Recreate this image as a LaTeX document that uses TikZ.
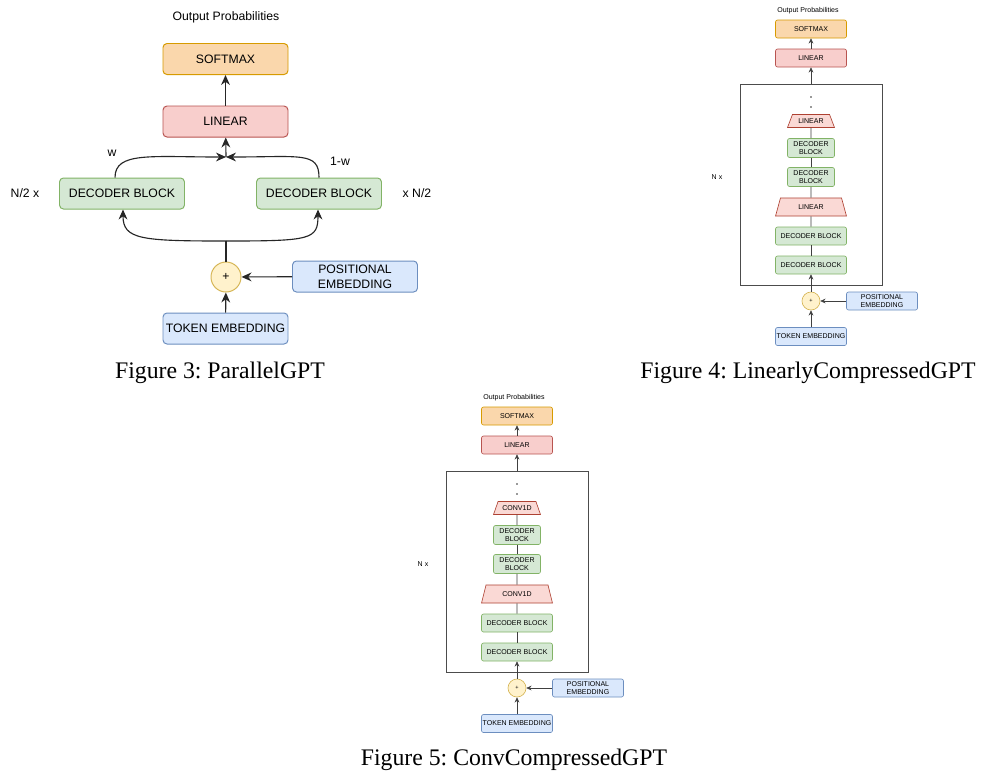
\documentclass[tikz,border=0pt]{standalone}
\usepackage{fontspec}
\setmainfont{Liberation Serif}
\setsansfont{Liberation Sans}
\usetikzlibrary{calc,arrows.meta,shapes.geometric}
\frenchspacing

\definecolor{softfill}{HTML}{FAD7AC}
\definecolor{softline}{HTML}{D79B00}
\definecolor{linfill}{HTML}{F8CECC}
\definecolor{linline}{HTML}{B85450}
\definecolor{decfill}{HTML}{D5E8D4}
\definecolor{decline}{HTML}{82B366}
\definecolor{embfill}{HTML}{DAE8FC}
\definecolor{embline}{HTML}{6C8EBF}
\definecolor{addfill}{HTML}{FFF2CC}
\definecolor{addline}{HTML}{D6B656}
\definecolor{trapfill}{HTML}{FAD9D5}
\definecolor{trapline}{HTML}{AE4132}

\tikzset{
  blk/.style={draw, rounded corners=1mm, line width=0.7pt, inner sep=0pt, align=center,
    minimum width=31.25mm, minimum height=7.75mm, font=\sffamily\fontsize{8.7}{10.6}\selectfont},
  sblk/.style={draw, rounded corners=0.5mm, line width=0.45pt, inner sep=0pt, align=center,
    minimum width=17.75mm, minimum height=4.5mm, font=\sffamily\fontsize{5}{6.1}\selectfont},
  sdec/.style={sblk, fill=decfill, draw=decline, minimum width=11.75mm, minimum height=4.75mm},
  softbox/.style={fill=softfill, draw=softline},
  linbox/.style={fill=linfill, draw=linline},
  decbox/.style={fill=decfill, draw=decline},
  embbox/.style={fill=embfill, draw=embline},
  addnode/.style={circle, draw=addline, fill=addfill, inner sep=0pt},
  trapbox/.style={trapezium, trapezium stretches=true, draw=trapline, fill=trapfill, line width=0.45pt,
    inner sep=0pt, font=\sffamily\fontsize{5}{6.1}\selectfont},
  lbl/.style={font=\sffamily\fontsize{8.7}{10.6}\selectfont},
  slbl/.style={font=\sffamily\fontsize{5}{6.1}\selectfont},
  capt/.style={font=\fontsize{16.9}{20}\selectfont},
  frame/.style={draw=black!70, line width=0.5pt, minimum width=35.5mm, minimum height=50.25mm},
  arr/.style={-{Stealth[length=2.5mm,width=2.2mm]}, line width=0.8pt, draw=black!85},
  sarr/.style={-{Stealth[length=1.3mm,width=1.2mm]}, line width=0.45pt, draw=black!75},
  sline/.style={line width=0.45pt, draw=black!75}
}

% one compressed stack: #1 shift, #2 prefix, #3 layer text, #4 caption
\newcommand{\compgpt}[4]{%
\begin{scope}[shift={#1}]
  \node[slbl] (#2-out) at (-3,-290) {Output Probabilities};
  \node[sblk, softbox] (#2-soft) at (0,-272) {SOFTMAX};
  \node[sblk, linbox] (#2-lin) at (0,-243) {LINEAR};
  \node[frame] (#2-frame) at (0,-116) {};
  \fill[black!80] (0,-204) circle (0.8);
  \fill[black!80] (0,-194) circle (0.8);
  \node[trapbox, minimum width=11.75mm, minimum height=3.25mm,
    trapezium left angle=55, trapezium right angle=55] (#2-trap2) at (0,-180) {#3};
  \node[sdec] (#2-dec4) at (0,-153) {DECODER\\BLOCK};
  \node[sdec] (#2-dec3) at (0,-124) {DECODER\\BLOCK};
  \node[slbl] (#2-n) at (-94,-124) {N x};
  \node[trapbox, minimum width=17.75mm, minimum height=4.5mm,
    trapezium left angle=67, trapezium right angle=67] (#2-trap1) at (0,-94) {#3};
  \node[sblk, decbox] (#2-dec2) at (0,-65) {DECODER BLOCK};
  \node[sblk, decbox] (#2-dec1) at (0,-36) {DECODER BLOCK};
  \node[addnode, line width=0.45pt, minimum size=4.5mm, font=\sffamily\fontsize{4}{5}\selectfont] (#2-add) at (0,0) {+};
  \node[sblk, embbox] (#2-pos) at (71,0) {POSITIONAL\\EMBEDDING};
  \node[sblk, embbox] (#2-tok) at (0,35.5) {TOKEN EMBEDDING};
  \node[capt] (#2-cap) at (-3,72) {#4};

  \draw[sarr] (#2-lin) -- (#2-soft);
  \draw[sarr] (#2-frame.north) -- (#2-lin);
  \draw[sline] (#2-trap2) -- (#2-dec4);
  \draw[sline] (#2-dec4) -- (#2-dec3);
  \draw[sline] (#2-dec3) -- (#2-trap1);
  \draw[sline] (#2-trap1) -- (#2-dec2);
  \draw[sline] (#2-dec2) -- (#2-dec1);
  \draw[sarr] (#2-add) -- (#2-dec1);
  \draw[sarr] (#2-pos) -- (#2-add);
  \draw[sarr] (#2-tok) -- (#2-add);
\end{scope}}

\begin{document}
\begin{tikzpicture}[x=0.25mm, y=-0.25mm]
  %%%%% START %%%%%
  \fill[white] (0,0) rectangle (999,779);
  \useasboundingbox (0,0) rectangle (999,779);

  % ParallelGPT
  \node[lbl] (p-out) at (226,17) {Output Probabilities};
  \node[blk, softbox] (p-soft) at (225.5,59) {SOFTMAX};
  \node[blk, linbox] (p-lin) at (225.5,121.5) {LINEAR};
  \coordinate (p-join) at (226,157);
  \node[blk, decbox] (p-ldec) at (122,193.5) {DECODER BLOCK};
  \node[blk, decbox] (p-rdec) at (319,193.5) {DECODER BLOCK};
  \node[lbl] (p-w) at (112,153) {w};
  \node[lbl] (p-1w) at (340,161) {1-w};
  \node[lbl] (p-nl) at (25,193) {N/2 x};
  \node[lbl] (p-nr) at (417,193) {x N/2};
  \coordinate (p-split) at (226,241);
  \node[addnode, line width=0.7pt, minimum size=7.5mm, lbl] (p-add) at (226,277) {+};
  \node[blk, embbox] (p-pos) at (355,276.5) {POSITIONAL\\EMBEDDING};
  \node[blk, embbox] (p-tok) at (225.5,328.5) {TOKEN EMBEDDING};
  \node[capt] (p-cap) at (220,373) {Figure 3: ParallelGPT};

  \draw[arr] (p-lin) -- (p-soft);
  \draw[arr] (p-join) -- (p-lin);
  \draw[arr] ($(p-ldec.north)+(-7,0)$) .. controls +(0,-26) and +(-75,0) .. (p-join);
  \draw[arr] (p-rdec.north) .. controls +(0,-26) and +(75,0) .. (p-join);
  \draw[line width=0.8pt, draw=black!85] (p-add) -- (p-split);
  \draw[arr] (p-split) .. controls +(-85,0) and +(0,30) .. ($(p-ldec.south)+(1,0)$);
  \draw[arr] (p-split) .. controls +(85,0) and +(0,30) .. ($(p-rdec.south)+(-1,0)$);
  \draw[arr] (p-pos) -- (p-add);
  \draw[arr] (p-tok) -- (p-add);

  % LinearlyCompressedGPT
  \compgpt{(811,301)}{lc}{LINEAR}{Figure 4: LinearlyCompressedGPT}

  % ConvCompressedGPT
  \compgpt{(517,688)}{cc}{CONV1D}{Figure 5: ConvCompressedGPT}

  %%%%% END %%%%%
\end{tikzpicture}
\end{document}
